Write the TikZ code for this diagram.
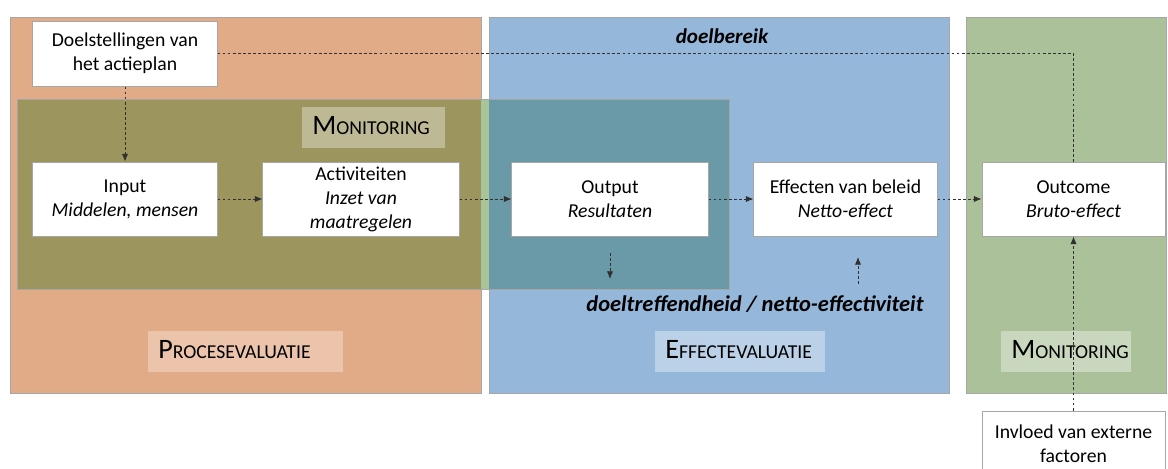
\documentclass[tikz,border=0pt]{standalone}
\usepackage{fontspec}
\setmainfont{Carlito}
\usepackage{tikz}
\usetikzlibrary{arrows.meta,positioning}
\definecolor{proces}{HTML}{E2AB87}
\definecolor{effect}{HTML}{95B8DA}
\definecolor{groen}{HTML}{AAC19A}
\definecolor{olijf}{HTML}{9C955E}
\definecolor{petrol}{HTML}{6A99A8}
\definecolor{tussen}{HTML}{A9C49A}
\definecolor{rand}{HTML}{A6A6A6}
\definecolor{lijn}{HTML}{303030}
\newcommand\kapitaal[2]{{\fontsize{20}{22}\selectfont #1}{\fontsize{14}{16}\selectfont #2}}
\tikzset{>={Latex[length=5.5pt,width=4.5pt]},
  every node/.style={font=\fontsize{14}{17}\selectfont},
  blok/.style={draw=rand,fill=white,line width=0.7pt,align=center,inner sep=0pt,minimum height=1.85cm},
  paneel/.style={draw=rand,line width=0.7pt},
  kop/.style={fill=#1,anchor=west,inner xsep=0.25cm,align=left,minimum height=1.025cm,text height=11pt,text depth=1pt},
  pijl/.style={->,draw=lijn,line width=0.6pt,dash pattern=on 2pt off 1.6pt},
  stippel/.style={draw=lijn,line width=0.6pt,dash pattern=on 2pt off 1.6pt},
  nadruk/.style={font=\fontsize{#1}{18}\selectfont\bfseries\itshape}}

\begin{document}
\begin{tikzpicture}[x=0.025cm,y=-0.025cm]
    \useasboundingbox (0,0) rectangle (1168,468);
    \clip (0,0) rectangle (1168,468);
    % drie panelen
    \draw[paneel,fill=proces] (10,17) rectangle (481,393);
    \draw[paneel,fill=effect] (489,17) rectangle (949,393);
    \draw[paneel,fill=groen] (966,17) rectangle (1166,393);
    % monitoring-vlak over beide panelen
    \fill[olijf] (17,99) rectangle (481,289);
    \fill[tussen] (481,99) rectangle (489,289);
    \fill[petrol] (489,99) rectangle (729,289);
    \draw[rand,line width=0.5pt] (17,99) rectangle (729,289);

    \node[kop=olijf!60!white!85!olijf,text width=3.075cm] (monboven) at (302,127.5) {\kapitaal{M}{ONITORING}};
    \node[kop=proces!70!white,text width=4.375cm] (proceslabel) at (148,351.5) {\kapitaal{P}{ROCESEVALUATIE}};
    \node[kop=effect!65!white,text width=3.75cm] (effectlabel) at (655,351.5) {\kapitaal{E}{FFECTEVALUATIE}};
    \node[kop=groen!65!white,text width=2.75cm] (monrechts) at (1001,351.5) {\kapitaal{M}{ONITORING}};

    \node[blok,minimum width=4.6cm,minimum height=1.625cm] (doel) at (125,53.5) {Doelstellingen van\\het actieplan};
    \node[blok,minimum width=4.6cm] (input) at (125,199) {Input\\\textit{Middelen, mensen}};
    \node[blok,minimum width=4.9cm] (activ) at (361,199) {Activiteiten\\\textit{Inzet van}\\\textit{maatregelen}};
    \node[blok,minimum width=4.9cm] (output) at (610,199) {Output\\\textit{Resultaten}};
    \node[blok,minimum width=4.575cm] (beleid) at (845.5,199) {Effecten van beleid\\\textit{Netto-effect}};
    \node[blok,minimum width=4.575cm] (outcome) at (1073.5,199) {Outcome\\\textit{Bruto-effect}};
    \node[blok,minimum width=4.575cm,minimum height=1.625cm] (invloed) at (1073.5,443.5) {Invloed van externe\\factoren};

    \node[nadruk=15] (doelbereik) at (722,36) {doelbereik};
    \node[nadruk=16] (treffend) at (755,304) {doeltreffendheid / netto-effectiviteit};

    \coordinate (neerA) at (610,253);
    \coordinate (neerB) at (610,279);
    \coordinate (opA) at (858,284);
    \coordinate (opB) at (858,257);

    \draw[pijl] (doel) -- (input);
    \draw[pijl] (input) -- (activ);
    \draw[pijl] (activ) -- (output);
    \draw[pijl] (output) -- (beleid);
    \draw[pijl] (beleid) -- (outcome);
    \draw[stippel] (doel.east) -| (outcome.north);
    \draw[pijl] (invloed) -- (outcome);
    \draw[pijl] (neerA) -- (neerB);
    \draw[pijl] (opA) -- (opB);
\end{tikzpicture}
\end{document}
